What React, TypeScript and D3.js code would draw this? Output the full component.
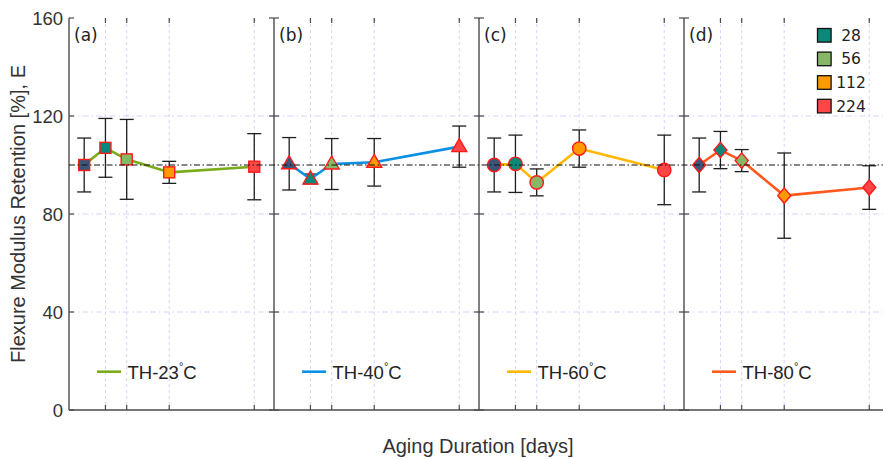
import React from "react";
import * as d3 from "d3";

const days = [0, 28, 56, 112, 224];
const gridDays = [28, 56, 112, 224];
const panelLabels = ["(a)", "(b)", "(c)", "(d)"];
const seriesNames = ["TH-23", "TH-40", "TH-60", "TH-80"];
const lineColors = ["#7aab1a", "#0a90e2", "#ffb800", "#ff5a1e"];
const markerShapes = ["square", "triangle", "circle", "diamond"];
const valuesA = [100, 107, 102.3, 97, 99.3];
const errA = [11, 12, 16.3, 4.5, 13.5];
const valuesB = [100.5, 94.3, 100.4, 101.1, 107.5];
const errB = [10.7, 2, 10.4, 9.7, 8.4];
const valuesC = [100, 100.5, 92.9, 106.7, 98];
const errC = [11, 11.7, 5.5, 7.6, 14.2];
const valuesD = [100, 106.1, 101.8, 87.5, 90.8];
const errD = [11, 7.6, 4.5, 17.4, 8.9];
const seriesValues = [valuesA, valuesB, valuesC, valuesD];
const seriesErrors = [errA, errB, errC, errD];
const dayColors = ["#3b5578", "#0a8878", "#88b865", "#ff9a00", "#ff4646"];
const legendDays = ["28", "56", "112", "224"];
const yTicks = [0, 40, 80, 120, 160];
const yGrid = [40, 80, 120];
const referenceValue = 100;

const W = 883;
const H = 459;
const plotLeft = 69;
const panelW = 205;
const yScale = d3.scaleLinear().domain([0, 160]).range([410, 18]);

function Marker({ shape, x, y, fill }: { shape: string; x: number; y: number; fill: string }) {
  const stroke = "#ff1a1a";
  const sw = 1.4;
  if (shape === "square") {
    return <rect x={x - 5.5} y={y - 5.5} width={11} height={11} fill={fill} stroke={stroke} strokeWidth={sw} />;
  }
  if (shape === "circle") {
    return <circle cx={x} cy={y} r={6.7} fill={fill} stroke={stroke} strokeWidth={sw} />;
  }
  if (shape === "triangle") {
    const p = `${x},${y - 8} ${x + 7.5},${y + 5} ${x - 7.5},${y + 5}`;
    return <polygon points={p} fill={fill} stroke={stroke} strokeWidth={sw} />;
  }
  const p = `${x},${y - 7.7} ${x + 6.5},${y} ${x},${y + 7.7} ${x - 6.5},${y}`;
  return <polygon points={p} fill={fill} stroke={stroke} strokeWidth={sw} />;
}

export default function App() {
  const axisColor = "#4a4a4a";
  const gridColor = "#d4d4fb";
  const tickFont = "'Liberation Sans', Arial, sans-serif";
  const letterFont = "'DejaVu Sans', Verdana, sans-serif";
  return (
    <svg
      width={W}
      height={H}
      style={{ position: "absolute", left: 0, top: 0, background: "#fff" }}
      xmlns="http://www.w3.org/2000/svg"
    >
      <rect x={0} y={0} width={W} height={H} fill="#fff" />
      {panelLabels.map((lab, i) => {
        const left = plotLeft + i * panelW;
        const x = d3.scaleLinear().domain([-20, 250]).range([left, left + panelW]);
        const vals = seriesValues[i];
        const errs = seriesErrors[i];
        const line = d3
          .line<number>()
          .x((_, j) => x(days[j]))
          .y((v) => yScale(v));
        return (
          <g key={lab}>
            {gridDays.map((d) => (
              <line key={"gx" + d} x1={x(d)} x2={x(d)} y1={yScale(160)} y2={yScale(0)} stroke={gridColor} strokeWidth={1} strokeDasharray="3,3" />
            ))}
            {yGrid.map((v) => (
              <line key={"gy" + v} x1={left} x2={left + panelW} y1={yScale(v)} y2={yScale(v)} stroke={gridColor} strokeWidth={1} strokeDasharray="6,3,1.5,3" />
            ))}
            {gridDays.map((d) => (
              <g key={"tx" + d}>
                <line x1={x(d)} x2={x(d)} y1={yScale(0)} y2={yScale(0) - 5} stroke={axisColor} strokeWidth={1.2} />
                <line x1={x(d)} x2={x(d)} y1={yScale(160)} y2={yScale(160) + 5} stroke={axisColor} strokeWidth={1.2} />
              </g>
            ))}
            {yTicks.map((v) => (
              <g key={"ty" + v}>
                <line x1={left} x2={left + 5} y1={yScale(v)} y2={yScale(v)} stroke={axisColor} strokeWidth={1.2} />
                <line x1={left + panelW} x2={left + panelW - 5} y1={yScale(v)} y2={yScale(v)} stroke={axisColor} strokeWidth={1.2} />
              </g>
            ))}
            <line x1={left} x2={left} y1={yScale(160)} y2={yScale(0)} stroke={axisColor} strokeWidth={1.4} />
            {vals.map((v, j) => (
              <g key={"e" + j} stroke="#1e1e1e" strokeWidth={1.3}>
                <line x1={x(days[j])} x2={x(days[j])} y1={yScale(v + errs[j])} y2={yScale(v - errs[j])} />
                <line x1={x(days[j]) - 7} x2={x(days[j]) + 7} y1={yScale(v + errs[j])} y2={yScale(v + errs[j])} />
                <line x1={x(days[j]) - 7} x2={x(days[j]) + 7} y1={yScale(v - errs[j])} y2={yScale(v - errs[j])} />
              </g>
            ))}
            <path d={line(vals) || ""} fill="none" stroke={lineColors[i]} strokeWidth={2.6} strokeLinejoin="round" />
            {vals.map((v, j) => (
              <Marker key={"m" + j} shape={markerShapes[i]} x={x(days[j])} y={yScale(v)} fill={dayColors[j]} />
            ))}
            <text x={left + 5} y={41} fontFamily={letterFont} fontSize={17} fill="#222">
              {lab}
            </text>
            <line x1={left + 28} x2={left + 52} y1={371.7} y2={371.7} stroke={lineColors[i]} strokeWidth={2.6} />
            <text x={left + 58.5} y={378.5} fontFamily={tickFont} fontSize={18.5} fill="#222">
              {seriesNames[i]}
              <tspan dy={-9} fontSize={11}>°</tspan>
              <tspan dy={9}>C</tspan>
            </text>
          </g>
        );
      })}
      <line x1={plotLeft} x2={W} y1={yScale(referenceValue)} y2={yScale(referenceValue)} stroke="#111" strokeWidth={1.2} strokeDasharray="6,2.5,1.5,2.5" />
      <line x1={plotLeft} x2={W} y1={yScale(0)} y2={yScale(0)} stroke={axisColor} strokeWidth={1.4} />
      {yTicks.map((v) => (
        <text key={"yl" + v} x={63} y={yScale(v) + 6.5} textAnchor="end" fontFamily={tickFont} fontSize={18.5} fill="#333">
          {v}
        </text>
      ))}
      <text
        transform={`translate(24.5,${yScale(80)}) rotate(-90)`}
        textAnchor="middle"
        fontFamily={tickFont}
        fontSize={20}
        fill="#333"
      >
        Flexure Modulus Retention [%], E
      </text>
      <text x={478} y={453} textAnchor="middle" fontFamily={tickFont} fontSize={20} fill="#333">
        Aging Duration [days]
      </text>
      {legendDays.map((d, k) => {
        const cy = 35.3 + k * 23.6;
        return (
          <g key={"lg" + d}>
            <rect x={817.5} y={cy - 6.8} width={13.6} height={13.6} fill={dayColors[k + 1]} stroke="#111" strokeWidth={1.3} />
            <text x={851} y={cy + 5.5} textAnchor="middle" fontFamily={letterFont} fontSize={15.5} fill="#222">
              {d}
            </text>
          </g>
        );
      })}
    </svg>
  );
}
